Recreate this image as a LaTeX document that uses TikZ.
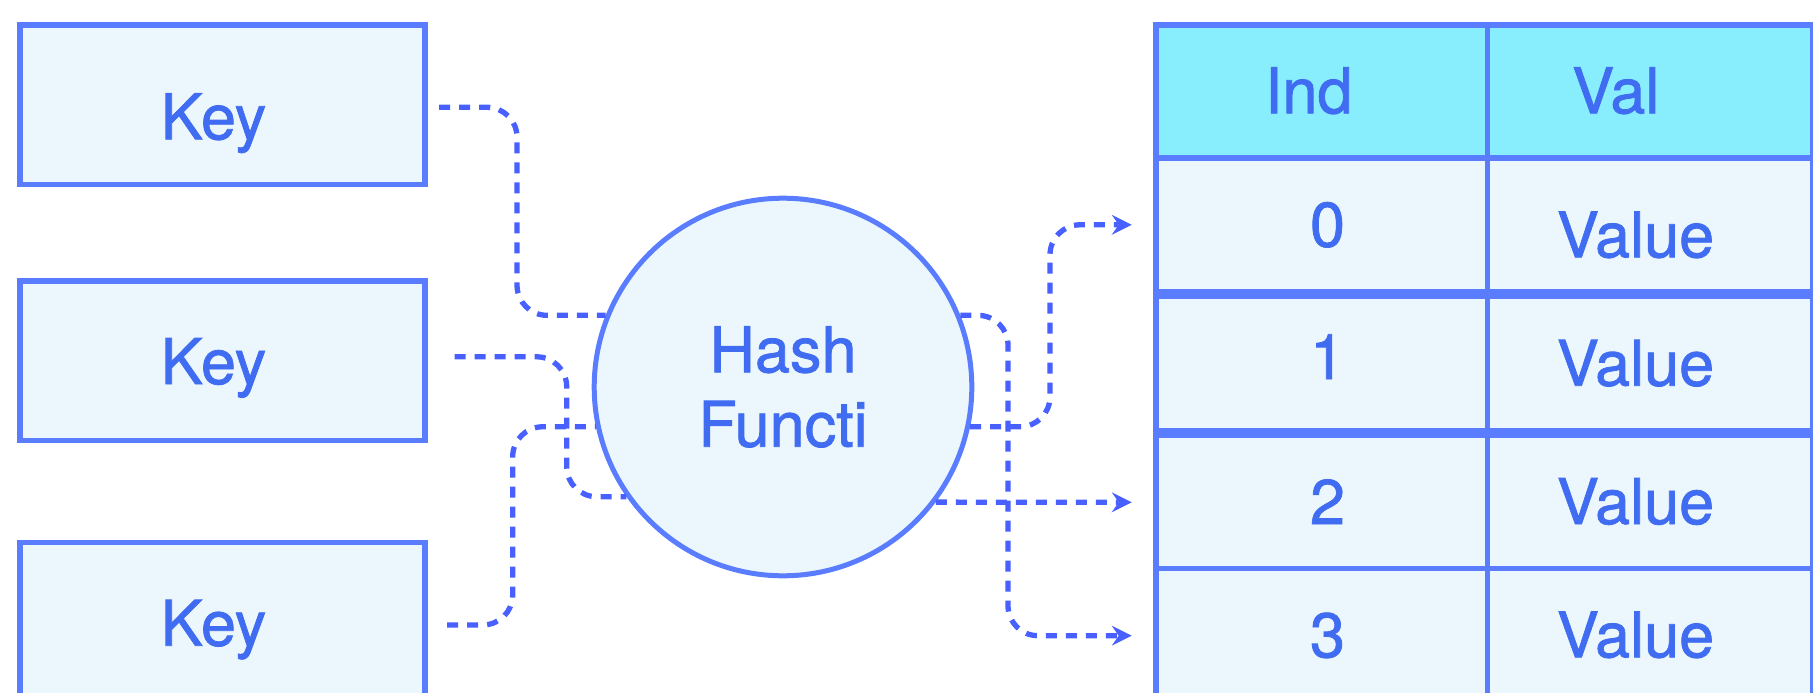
\documentclass[tikz,border=0pt]{standalone}
\usepackage{fontspec}
\setmainfont{TeX Gyre Heros}
\newfontfamily\medio{TeX Gyre Heros}[FakeBold = 1.2]
\usetikzlibrary{arrows.meta}
\definecolor{borde}{RGB}{90,124,255}
\definecolor{trazo}{RGB}{72,96,255}
\definecolor{tinta}{RGB}{64,108,242}
\definecolor{celeste}{RGB}{236,247,253}
\definecolor{cian}{RGB}{136,238,253}
\begin{document}
\begin{tikzpicture}[x = 1pt, y = -1pt,
  celda/.style = {rectangle, draw = borde, fill = celeste, line width = 5.5pt, outer sep = 0pt,
    inner sep = 0pt, anchor = north west, minimum height = 134pt},
  texto/.style = {anchor = base, inner sep = 0pt, text = tinta, font = \medio\fontsize{63}{74.4}\selectfont},
  enlace/.style = {draw = trazo, line width = 5.3pt, dash pattern = on 11pt off 9pt, rounded corners = 30pt},
  flecha/.style = {enlace, -{Stealth[length = 20pt, width = 20pt, inset = 7pt, line width = 0pt]}}
]
\useasboundingbox (0, 0) rectangle (1813, 693);
% claves
\foreach \k/\cy/\base in {1/104.8/139.3, 2/360.8/384, 3/622/645.7}{
  \node[celda, anchor = center, minimum width = 405pt, minimum height = 159.3pt] (key\k) at (222.7, \cy) {};
  \node[texto] (tkey\k) at (213.5, \base) {Key};
}
% funcion hash
\node[circle, draw = borde, fill = celeste, line width = 5pt, minimum size = 377.6pt, inner sep = 0pt,
  align = center, text = tinta, font = \medio\fontsize{63}{74.4}\selectfont] (hash) at (783, 387) {Hash\\Functi};
% tabla
\node[celda, fill = cian, minimum width = 331.5pt, minimum height = 133pt] (hidx) at (1156, 24.8) {};
\node[celda, fill = cian, minimum width = 325pt, minimum height = 133pt] (hval) at (1487.5, 24.8) {};
\node[texto] (tind) at (1308.7, 113.3) {Ind};
\node[texto] (tval) at (1615.7, 113.3) {Val};
\foreach \i/\top/\ib/\vb in {0/157.8/246.7/257.3, 1/296.5/379/385.7, 2/435.3/524/524, 3/568.7/657.3/657.3}{
  \node[celda, minimum width = 331.5pt] (idx\i) at (1156, \top) {};
  \node[celda, minimum width = 325pt] (val\i) at (1487.5, \top) {};
  \node[texto] (n\i) at (1327.5, \ib) {\i};
  \node[texto] (v\i) at (1635.5, \vb) {Value};
}
% claves -> funcion
\draw[enlace] ([xshift = 14pt, yshift = -2.5pt]key1.east) -| ([xshift = -88.6pt]hash.158) -- (hash.158);
\draw[enlace] ([xshift = 29.5pt, yshift = 4pt]key2.east) -| ([xshift = -59.6pt]hash.215) -- (hash.215);
\draw[enlace] ([xshift = 22pt, yshift = -3pt]key3.east) -| ([xshift = -83.2pt]hash.192) -- (hash.192);
% funcion -> filas
\draw[flecha] (hash.348) -| ([xshift = -106pt]idx0.west) -- ([xshift = -24.3pt]idx0.west);
\draw[flecha] (hash.323) -- ([xshift = -24.3pt]idx2.west);
\draw[flecha] (hash.22) -| ([xshift = -148pt]idx3.west) -- ([xshift = -24.3pt]idx3.west);
\end{tikzpicture}
\end{document}
